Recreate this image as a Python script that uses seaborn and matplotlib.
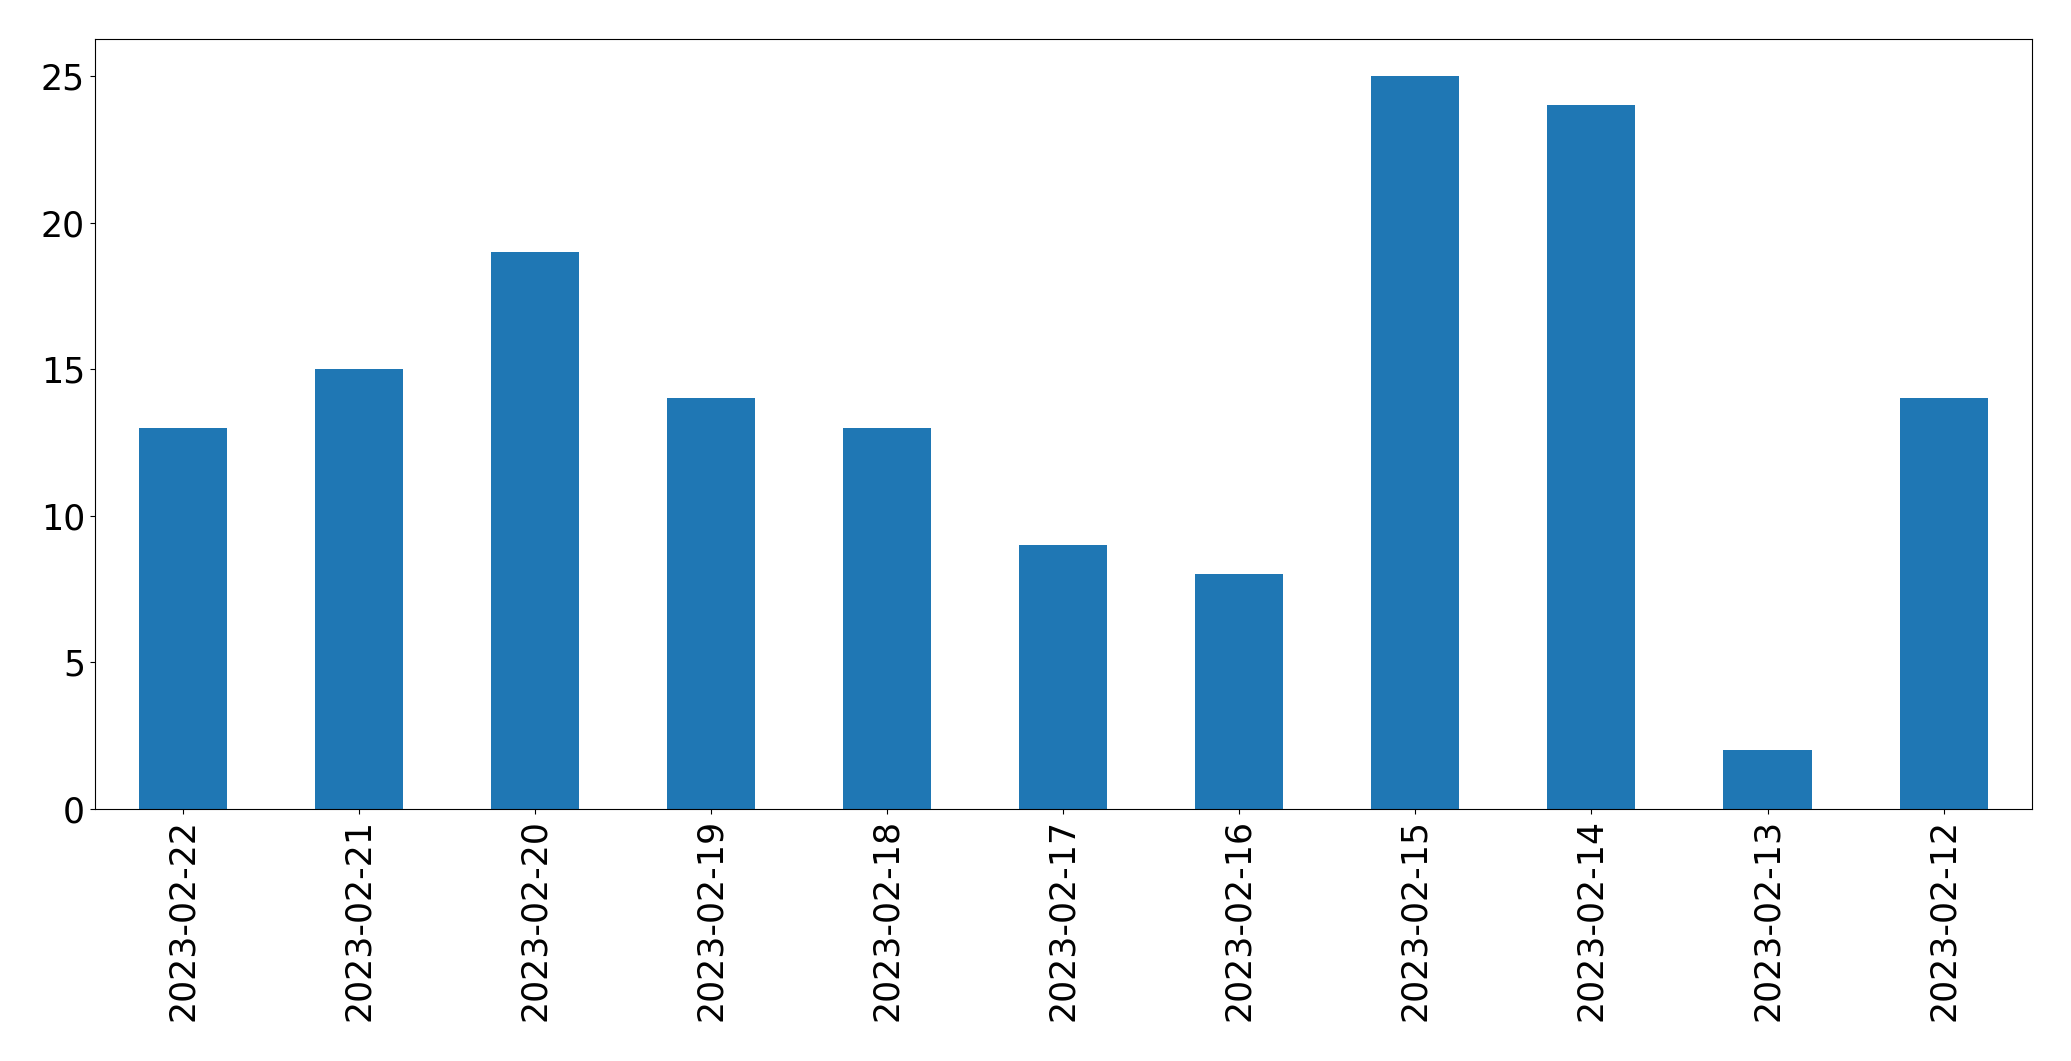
import pandas as pd
import matplotlib
matplotlib.use("Agg")
import matplotlib.pyplot as plt
import seaborn as sns

dates = ['2023-02-22', '2023-02-21', '2023-02-20', '2023-02-19', '2023-02-18',
         '2023-02-17', '2023-02-16', '2023-02-15', '2023-02-14', '2023-02-13',
         '2023-02-12']
counts = [13, 15, 19, 14, 13, 9, 8, 25, 24, 2, 14]

df = pd.DataFrame({'date': dates, 'count': counts})

fig, ax = plt.subplots(figsize=(20.71, 10.61), dpi=100)
fig.subplots_adjust(left=0.0457, right=0.981, top=0.963, bottom=0.2375)

sns.barplot(data=df, x='date', y='count', order=dates, color='#1f77b4',
            saturation=1, width=0.5, linewidth=0, ax=ax)

ax.set_xlim(-0.5, len(dates) - 0.5)
ax.set_ylim(0, 26.25)
ax.set_xlabel('')
ax.set_ylabel('')
ax.tick_params(axis='both', labelsize=25)
ax.tick_params(axis='x', labelrotation=90)

plt.savefig('out.png', dpi=100)
